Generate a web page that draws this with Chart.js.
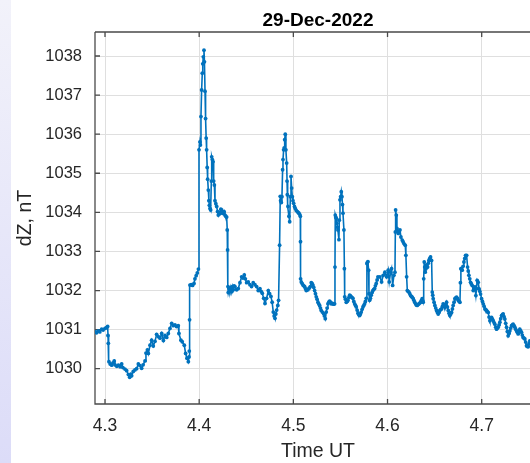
<!DOCTYPE html>
<html>
<head>
<meta charset="utf-8">
<script src="https://cdn.jsdelivr.net/npm/chart.js@4/dist/chart.umd.min.js"></script>
<style>
  html, body { margin: 0; padding: 0; background: #fff; overflow: hidden; width: 530px; height: 463px; }
  #strip { position: absolute; left: 0; top: 0; width: 11px; height: 463px;
           background: linear-gradient(to bottom, #f2f2fa 0%, #e7e7f9 50%, #dcdcf8 100%); }
  #wrap { position: absolute; left: 0; top: 0; width: 560px; height: 463px; }
  canvas { display: block; }
</style>
</head>
<body>
<div id="strip"></div>
<div id="wrap"><canvas id="c" width="560" height="463"></canvas></div>
<script>
// Vertical field component dZ (nT) against universal time (decimal hours), 29 Dec 2022
const timeUT = [
  4.2894, 4.2910, 4.2929, 4.2945, 4.2965, 4.2980, 4.3000, 4.3015, 4.3028, 4.3032,
  4.3035, 4.3042, 4.3055, 4.3071, 4.3085, 4.3098, 4.3106, 4.3125, 4.3142, 4.3160,
  4.3177, 4.3190, 4.3212, 4.3230, 4.3248, 4.3262, 4.3275, 4.3283, 4.3300, 4.3318,
  4.3336, 4.3354, 4.3370, 4.3389, 4.3405, 4.3425, 4.3435, 4.3450, 4.3460, 4.3478,
  4.3495, 4.3513, 4.3531, 4.3548, 4.3566, 4.3584, 4.3602, 4.3620, 4.3637, 4.3655,
  4.3672, 4.3690, 4.3708, 4.3725, 4.3743, 4.3760, 4.3778, 4.3785, 4.3806, 4.3820,
  4.3842, 4.3856, 4.3870, 4.3885, 4.3892, 4.3895, 4.3898, 4.3902,
  4.3915, 4.3930, 4.3945, 4.3955, 4.3968, 4.3980, 4.3992, 4.3998, 4.4008, 4.4013,
  4.4019, 4.4026, 4.4033, 4.4038, 4.4044, 4.4051, 4.4056, 4.4062, 4.4068, 4.4074,
  4.4079, 4.4085, 4.4090, 4.4097, 4.4103, 4.4108, 4.4115, 4.4122, 4.4129, 4.4133,
  4.4140, 4.4147, 4.4154, 4.4161, 4.4168, 4.4177, 4.4186, 4.4195, 4.4203, 4.4212,
  4.4221, 4.4230, 4.4239, 4.4248, 4.4256, 4.4265, 4.4274, 4.4283, 4.4292, 4.4298,
  4.4302, 4.4306, 4.4309, 4.4318, 4.4327, 4.4336, 4.4345, 4.4353, 4.4362, 4.4371,
  4.4380, 4.4398, 4.4415, 4.4433, 4.4451, 4.4465, 4.4479, 4.4490, 4.4504, 4.4521,
  4.4539, 4.4556, 4.4574, 4.4592, 4.4610, 4.4627, 4.4645, 4.4658, 4.4670, 4.4685,
  4.4699, 4.4716, 4.4734, 4.4748, 4.4762, 4.4775, 4.4787, 4.4796, 4.4805, 4.4814,
  4.4823, 4.4835, 4.4843,
  4.4854, 4.4861, 4.4865, 4.4872, 4.4879, 4.4886, 4.4890, 4.4897, 4.4903, 4.4908,
  4.4914, 4.4921, 4.4929, 4.4933, 4.4936, 4.4943, 4.4953, 4.4961, 4.4968, 4.4975,
  4.4982, 4.4989, 4.4996, 4.5003, 4.5012, 4.5020, 4.5031, 4.5042, 4.5050, 4.5059,
  4.5067, 4.5074, 4.5076, 4.5077, 4.5084, 4.5093, 4.5102, 4.5111, 4.5120, 4.5128,
  4.5137, 4.5146, 4.5155, 4.5168, 4.5180, 4.5190, 4.5199, 4.5208, 4.5217, 4.5226,
  4.5235, 4.5243, 4.5252, 4.5261, 4.5270, 4.5279, 4.5288, 4.5296, 4.5308, 4.5321,
  4.5330, 4.5339, 4.5349, 4.5358, 4.5367, 4.5376, 4.5385, 4.5393, 4.5402, 4.5411,
  4.5420, 4.5429, 4.5438, 4.5442, 4.5445, 4.5450, 4.5456, 4.5463, 4.5468, 4.5473,
  4.5484, 4.5488, 4.5495, 4.5502, 4.5509, 4.5516, 4.5522, 4.5527, 4.5537, 4.5542,
  4.5545, 4.5553, 4.5562, 4.5571, 4.5580, 4.5589, 4.5598, 4.5607, 4.5615, 4.5624,
  4.5633, 4.5642, 4.5651, 4.5660, 4.5668, 4.5677, 4.5686, 4.5695, 4.5704, 4.5712,
  4.5721, 4.5730, 4.5739, 4.5748, 4.5757, 4.5765, 4.5774, 4.5781, 4.5786, 4.5792,
  4.5799, 4.5803, 4.5810, 4.5818, 4.5827, 4.5836, 4.5845, 4.5854, 4.5863, 4.5871,
  4.5880, 4.5889, 4.5898,
  4.5919, 4.5937, 4.5954, 4.5972, 4.5990, 4.6007, 4.6018, 4.6033, 4.6043, 4.6054,
  4.6068, 4.6079, 4.6083, 4.6086, 4.6093, 4.6100, 4.6107, 4.6114, 4.6123, 4.6132,
  4.6142, 4.6156, 4.6165, 4.6174, 4.6188, 4.6195, 4.6203, 4.6210, 4.6218, 4.6227,
  4.6236, 4.6245, 4.6254, 4.6262, 4.6271, 4.6280, 4.6289, 4.6298, 4.6306, 4.6315,
  4.6324, 4.6333, 4.6342, 4.6351, 4.6360, 4.6368, 4.6374, 4.6379, 4.6384, 4.6390,
  4.6395, 4.6400, 4.6408, 4.6415, 4.6426, 4.6433, 4.6439, 4.6448, 4.6457, 4.6468,
  4.6475, 4.6480, 4.6485, 4.6494, 4.6503, 4.6512, 4.6521, 4.6530, 4.6538, 4.6547,
  4.6556, 4.6565, 4.6574, 4.6583, 4.6591, 4.6600, 4.6609, 4.6618, 4.6627, 4.6636,
  4.6645, 4.6653, 4.6662, 4.6671, 4.6680, 4.6689, 4.6697, 4.6706, 4.6715, 4.6724,
  4.6733, 4.6742, 4.6751, 4.6760, 4.6769, 4.6774, 4.6779, 4.6786, 4.6793, 4.6802,
  4.6811, 4.6820, 4.6829,
  4.6840, 4.6850, 4.6857, 4.6864, 4.6873, 4.6882, 4.6890, 4.6899, 4.6910, 4.6918,
  4.6927, 4.6938, 4.6945, 4.6952, 4.6963, 4.6973, 4.6980, 4.6988, 4.6999, 4.7008,
  4.7016, 4.7025, 4.7034, 4.7043, 4.7052, 4.7060, 4.7069, 4.7078, 4.7087, 4.7096,
  4.7105, 4.7114, 4.7122, 4.7131, 4.7140, 4.7149, 4.7158, 4.7166, 4.7175, 4.7184,
  4.7193, 4.7202, 4.7211, 4.7220, 4.7228, 4.7237, 4.7246, 4.7255, 4.7264, 4.7272,
  4.7281, 4.7290, 4.7299, 4.7308, 4.7317, 4.7326, 4.7334, 4.7343, 4.7352, 4.7361,
  4.7370, 4.7378, 4.7387, 4.7396, 4.7405, 4.7414, 4.7423, 4.7431, 4.7440, 4.7449,
  4.7458, 4.7467, 4.7476, 4.7484, 4.7493, 4.7502, 4.7511, 4.7525, 4.7540
];

const dZ = [
  1030.95, 1030.92, 1030.97, 1030.94, 1031.01, 1030.99, 1031.03, 1031.05, 1031.08, 1030.85,
  1030.65, 1030.18, 1030.12, 1030.09, 1030.15, 1030.20, 1030.10, 1030.06, 1030.09, 1030.05,
  1030.12, 1030.03, 1029.99, 1029.95, 1029.85, 1029.78, 1029.86, 1029.82, 1029.93, 1029.97,
  1030.00, 1030.12, 1030.08, 1030.01, 1030.10, 1030.20, 1030.40, 1030.48, 1030.39, 1030.60,
  1030.73, 1030.58, 1030.70, 1030.88, 1030.82, 1030.78, 1030.90, 1030.72, 1030.85, 1030.80,
  1030.90, 1031.03, 1031.16, 1031.10, 1031.12, 1031.08, 1031.10, 1030.90, 1030.73, 1030.69,
  1030.60, 1030.39, 1030.27, 1030.18, 1030.30, 1030.45, 1031.25, 1032.14,
  1032.15, 1032.13, 1032.18, 1032.30, 1032.38, 1032.45, 1032.55, 1035.60, 1035.80, 1035.72,
  1036.45, 1037.13, 1037.56, 1037.80, 1037.98, 1038.15, 1037.85, 1037.10, 1036.40, 1035.90,
  1035.60, 1035.15, 1034.85, 1034.57, 1034.30, 1034.18, 1034.10, 1034.06, 1034.80, 1035.42,
  1035.35, 1035.30, 1034.80, 1034.70, 1034.30, 1034.22, 1034.15, 1034.02, 1033.93, 1034.00,
  1033.97, 1034.08, 1034.06, 1033.98, 1033.97, 1034.02, 1033.93, 1033.90, 1033.88, 1033.55,
  1033.04, 1032.10, 1031.95, 1032.05, 1031.98, 1032.08, 1031.97, 1032.10, 1032.02, 1032.12,
  1032.10, 1032.02, 1032.05, 1032.20, 1032.35, 1032.32, 1032.40, 1032.30, 1032.20, 1032.22,
  1032.15, 1032.10, 1032.20, 1032.15, 1032.10, 1032.00, 1032.05, 1031.98, 1031.93, 1031.80,
  1031.67, 1031.80, 1032.00, 1031.92, 1031.85, 1031.70, 1031.45, 1031.35, 1031.29, 1031.40,
  1031.50, 1031.62, 1031.75,
  1033.16, 1034.41, 1034.30, 1034.25, 1034.40, 1035.09, 1035.35, 1035.60, 1035.65, 1035.86,
  1036.00, 1035.60, 1035.26, 1034.80, 1034.45, 1034.15, 1033.90, 1033.76, 1034.40, 1034.92,
  1034.62, 1034.40, 1034.30, 1034.23, 1034.15, 1034.10, 1034.05, 1034.02, 1034.00, 1033.98,
  1033.95, 1033.90, 1033.25, 1032.30, 1032.22, 1032.18, 1032.14, 1032.12, 1032.10, 1032.05,
  1032.00, 1032.03, 1032.02, 1032.06, 1032.10, 1032.20, 1032.18, 1032.14, 1032.08, 1032.00,
  1031.92, 1031.84, 1031.78, 1031.70, 1031.66, 1031.62, 1031.55, 1031.49, 1031.45, 1031.41,
  1031.35, 1031.28, 1031.45, 1031.55, 1031.66, 1031.70, 1031.73, 1031.70, 1031.66, 1031.68,
  1031.66, 1031.65, 1031.66, 1032.60, 1033.93, 1033.88, 1033.85, 1033.72, 1033.62, 1033.55,
  1033.30, 1033.80, 1034.32, 1034.40, 1034.53, 1034.40, 1034.20, 1033.98, 1033.55, 1032.56,
  1031.84, 1031.78, 1031.70, 1031.72, 1031.75, 1031.82, 1031.88, 1031.86, 1031.84, 1031.82,
  1031.80, 1031.72, 1031.66, 1031.62, 1031.58, 1031.50, 1031.42, 1031.38, 1031.36, 1031.40,
  1031.45, 1031.52, 1031.58, 1031.62, 1031.66, 1031.72, 1031.80, 1032.69, 1032.72, 1032.74,
  1032.52, 1031.92, 1031.75, 1031.80, 1031.88, 1031.95, 1032.00, 1032.03, 1032.05, 1032.12,
  1032.18, 1032.27, 1032.35,
  1032.35, 1032.22, 1032.39, 1032.47, 1032.35, 1032.52, 1032.22, 1032.47, 1032.56, 1032.13,
  1032.39, 1032.47, 1033.50, 1034.06, 1033.93, 1033.59, 1033.52, 1033.46, 1033.50, 1033.55,
  1033.37, 1033.29, 1033.25, 1033.20, 1033.16, 1032.90, 1032.35, 1032.00, 1031.98, 1031.96,
  1031.92, 1031.87, 1031.85, 1031.83, 1031.80, 1031.75, 1031.70, 1031.66, 1031.63, 1031.62,
  1031.64, 1031.66, 1031.68, 1031.70, 1031.75, 1031.79, 1031.74, 1031.70, 1032.30, 1032.73,
  1032.60, 1032.47, 1032.56, 1032.65, 1032.60, 1032.70, 1032.77, 1032.82, 1032.86, 1032.77,
  1031.96, 1031.88, 1031.79, 1031.70, 1031.62, 1031.55, 1031.49, 1031.44, 1031.40, 1031.44,
  1031.49, 1031.52, 1031.53, 1031.60, 1031.66, 1031.62, 1031.57, 1031.64, 1031.70, 1031.58,
  1031.49, 1031.42, 1031.36, 1031.40, 1031.44, 1031.53, 1031.62, 1031.70, 1031.79, 1031.81,
  1031.83, 1031.80, 1031.75, 1031.72, 1031.70, 1032.20, 1032.56, 1032.54, 1032.52, 1032.62,
  1032.73, 1032.82, 1032.90,
  1032.90, 1032.60, 1032.50, 1032.39, 1032.30, 1032.21, 1032.17, 1032.13, 1032.00, 1032.05,
  1032.09, 1031.87, 1032.05, 1032.26, 1032.21, 1032.04, 1031.98, 1031.91, 1031.79, 1031.72,
  1031.66, 1031.60, 1031.53, 1031.51, 1031.49, 1031.46, 1031.44, 1031.32, 1031.23, 1031.28,
  1031.31, 1031.27, 1031.23, 1031.18, 1031.14, 1031.06, 1031.01, 1031.04, 1031.06, 1031.12,
  1031.19, 1031.28, 1031.36, 1031.38, 1031.40, 1031.33, 1031.27, 1031.16, 1031.06, 1030.95,
  1030.84, 1030.90, 1030.97, 1031.04, 1031.10, 1031.12, 1031.14, 1031.10, 1031.06, 1031.01,
  1030.97, 1030.93, 1030.89, 1030.95, 1031.01, 1030.97, 1030.93, 1030.86, 1030.80, 1030.78,
  1030.76, 1030.68, 1030.59, 1030.57, 1030.56, 1030.64, 1030.71, 1030.68, 1030.62
];

const xTicks = [4.3, 4.4, 4.5, 4.6, 4.7];
const yTicks = [1030, 1031, 1032, 1033, 1034, 1035, 1036, 1037, 1038];
const xRange = [4.28938, 4.76297];
const yRange = [1029.097, 1038.614];

const titleText = '29-Dec-2022';
const xLabelText = 'Time UT';
const yLabelText = 'dZ, nT';

const FONT = "'Liberation Sans', Arial, Helvetica, sans-serif";
const LINE_BLUE = '#0072BD';
const AXIS_COLOR = '#4a4a4a';
const TEXT_COLOR = '#262626';
const GRID_COLOR = '#dfdfdf';

const points = timeUT.map((t, i) => ({ x: t, y: dZ[i] }));

// Box outline, inward tick marks, title and axis labels
const axesDecor = {
  id: 'axesDecor',
  beforeDatasetsDraw(chart) {
    const { ctx, chartArea: a, scales: { x, y } } = chart;
    ctx.save();
    ctx.strokeStyle = AXIS_COLOR;
    ctx.lineWidth = 1.3;
    ctx.beginPath();
    ctx.moveTo(a.left, a.top); ctx.lineTo(a.right, a.top);
    ctx.lineTo(a.right, a.bottom); ctx.lineTo(a.left, a.bottom);
    ctx.lineTo(a.left, a.top);
    x.ticks.forEach(t => {
      const px = x.getPixelForValue(t.value);
      ctx.moveTo(px, a.bottom); ctx.lineTo(px, a.bottom - 5);
      ctx.moveTo(px, a.top); ctx.lineTo(px, a.top + 5);
    });
    y.ticks.forEach(t => {
      const py = y.getPixelForValue(t.value);
      ctx.moveTo(a.left, py); ctx.lineTo(a.left + 5, py);
      ctx.moveTo(a.right, py); ctx.lineTo(a.right - 5, py);
    });
    ctx.stroke();
    ctx.restore();
  },
  afterDraw(chart) {
    const { ctx, chartArea: a } = chart;
    const cx = (a.left + a.right) / 2;
    const cy = (a.top + a.bottom) / 2;
    ctx.save();
    ctx.textAlign = 'center';
    ctx.textBaseline = 'alphabetic';
    ctx.fillStyle = '#000';
    ctx.font = 'bold 19px ' + FONT;
    ctx.fillText(titleText, cx, 26);
    ctx.fillStyle = TEXT_COLOR;
    ctx.font = '19.5px ' + FONT;
    ctx.fillText(xLabelText, cx, 457);
    ctx.translate(31, cy);
    ctx.rotate(-Math.PI / 2);
    ctx.fillText(yLabelText, 0, 0);
    ctx.restore();
  }
};

new Chart(document.getElementById('c'), {
  type: 'line',
  data: {
    datasets: [{
      data: points,
      borderColor: LINE_BLUE,
      backgroundColor: LINE_BLUE,
      borderWidth: 1.6,
      pointRadius: 1.9,
      pointBorderWidth: 0,
      pointBackgroundColor: LINE_BLUE,
      pointHoverRadius: 0,
      tension: 0,
      fill: false
    }]
  },
  options: {
    responsive: false,
    animation: false,
    events: [],
    devicePixelRatio: 1,
    layout: { padding: { top: 32, right: 19, left: 0, bottom: 0 } },
    plugins: { legend: { display: false }, tooltip: { enabled: false }, title: { display: false } },
    scales: {
      x: {
        type: 'linear',
        min: xRange[0],
        max: xRange[1],
        afterFit: s => { s.height = 59; },
        afterBuildTicks: s => { s.ticks = xTicks.map(v => ({ value: v })); },
        grid: { color: GRID_COLOR, lineWidth: 1, drawTicks: false },
        border: { display: false },
        ticks: {
          callback: v => Number(v).toFixed(1),
          font: { family: FONT, size: 17.5 },
          color: TEXT_COLOR,
          padding: 12,
          maxRotation: 0,
          autoSkip: false
        }
      },
      y: {
        type: 'linear',
        min: yRange[0],
        max: yRange[1],
        afterFit: s => { s.width = 95; },
        afterBuildTicks: s => { s.ticks = yTicks.map(v => ({ value: v })); },
        grid: { color: GRID_COLOR, lineWidth: 1, drawTicks: false },
        border: { display: false },
        ticks: {
          callback: v => String(Math.round(v)),
          font: { family: FONT, size: 16.5 },
          color: TEXT_COLOR,
          padding: 13,
          autoSkip: false
        }
      }
    }
  },
  plugins: [axesDecor]
});
</script>
</body>
</html>
